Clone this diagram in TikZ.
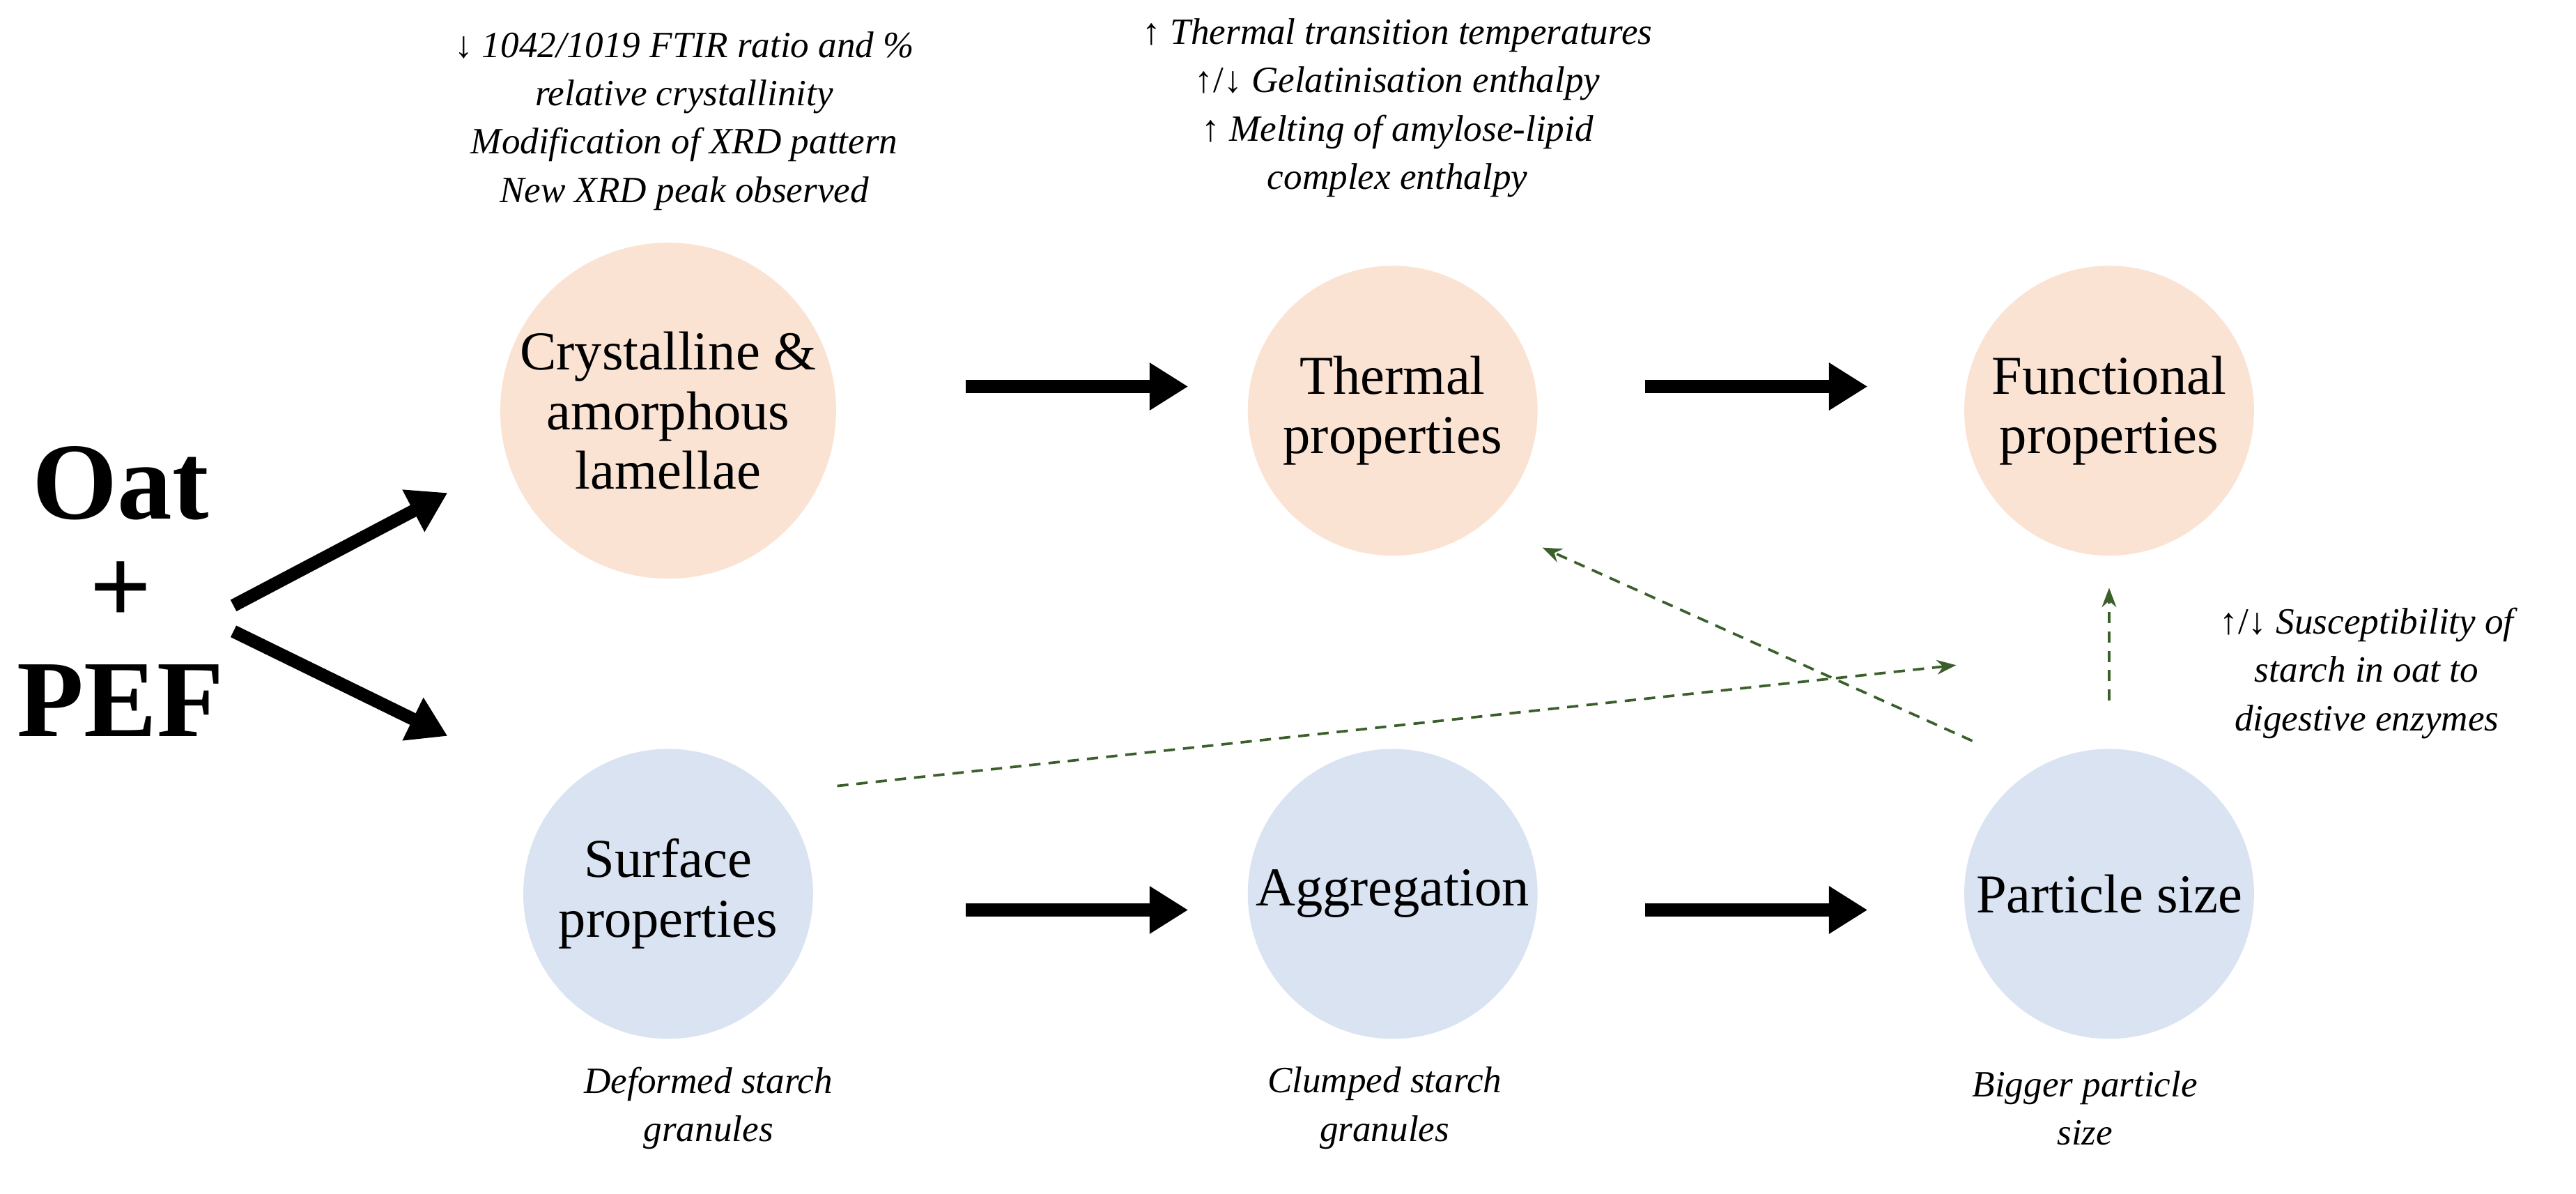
\documentclass[tikz,border=0pt]{standalone}
\usepackage{fontspec}
\setmainfont{Liberation Serif}
\usetikzlibrary{arrows.meta}
\definecolor{peach}{HTML}{FBE3D4}
\definecolor{bluec}{HTML}{DAE3F2}
\definecolor{dgreen}{HTML}{3B5F2A}
\begin{document}
\begin{tikzpicture}[x=1pt,y=-1pt,
  circ/.style={circle,minimum size=180pt,inner sep=0pt,align=center,font=\fontsize{34}{37}\selectfont},
  big/.style={-{Triangle[length=24pt,width=28pt]},line width=8pt,black},
  gdash/.style={-{Stealth[length=12pt,width=9pt]},dash pattern=on 7pt off 5pt,line width=1.6pt,dgreen},
  note/.style={align=center,font=\itshape\fontsize{23}{30}\selectfont},
  oat/.style={font=\bfseries\fontsize{68}{72}\selectfont}]
\useasboundingbox (0,0) rectangle (1600,741);
\node[circ,fill=peach] (cr) at (415,255) {Crystalline \&\\amorphous\\lamellae};
\node[circ,fill=peach] (th) at (865,255) {Thermal\\properties};
\node[circ,fill=peach] (fu) at (1310,255) {Functional\\properties};
\node[circ,fill=bluec] (su) at (415,555) {Surface\\properties};
\node[circ,fill=bluec] (ag) at (865,555) {Aggregation};
\node[circ,fill=bluec] (pa) at (1310,555) {Particle size};
\node[oat] (o) at (75,300) {Oat};
\node[oat] (p) at (75,368) {+};
\node[oat] (pef) at (75,435) {PEF};
\coordinate (a1) at (600,240); \coordinate (b1) at (738,240);
\coordinate (a2) at (1022,240); \coordinate (b2) at (1160,240);
\coordinate (a3) at (600,565); \coordinate (b3) at (738,565);
\coordinate (a4) at (1022,565); \coordinate (b4) at (1160,565);
\draw[big] (a1) -- (b1); \draw[big] (a2) -- (b2);
\draw[big] (a3) -- (b3); \draw[big] (a4) -- (b4);
\coordinate (s1) at (145,376); \coordinate (e1) at (278,306);
\coordinate (s2) at (145,392); \coordinate (e2) at (278,457);
\draw[big] (s1) -- (e1); \draw[big] (s2) -- (e2);
\coordinate (d1s) at (1225,460); \coordinate (d1e) at (958,340);
\coordinate (d2s) at (520,488); \coordinate (d2e) at (1215,413);
\coordinate (d3s) at (1310,435); \coordinate (d3e) at (1310,365);
\draw[gdash] (d1s) -- (d1e); \draw[gdash] (d2s) -- (d2e); \draw[gdash] (d3s) -- (d3e);
\node[note] (t1) at (425,75) {\textup{↓} 1042/1019 FTIR ratio and \%\\relative crystallinity\\Modification of XRD pattern\\New XRD peak observed};
\node[note] (t2) at (868,67) {\textup{↑} Thermal transition temperatures\\\textup{↑/↓} Gelatinisation enthalpy\\\textup{↑} Melting of amylose-lipid\\complex enthalpy};
\node[note] (t3) at (1470,418) {\textup{↑/↓} Susceptibility of\\starch in oat to\\digestive enzymes};
\node[note] (t4) at (440,688) {Deformed starch\\granules};
\node[note] (t5) at (860,688) {Clumped starch\\granules};
\node[note] (t6) at (1295,688) {Bigger particle\\size};
\end{tikzpicture}
\end{document}
